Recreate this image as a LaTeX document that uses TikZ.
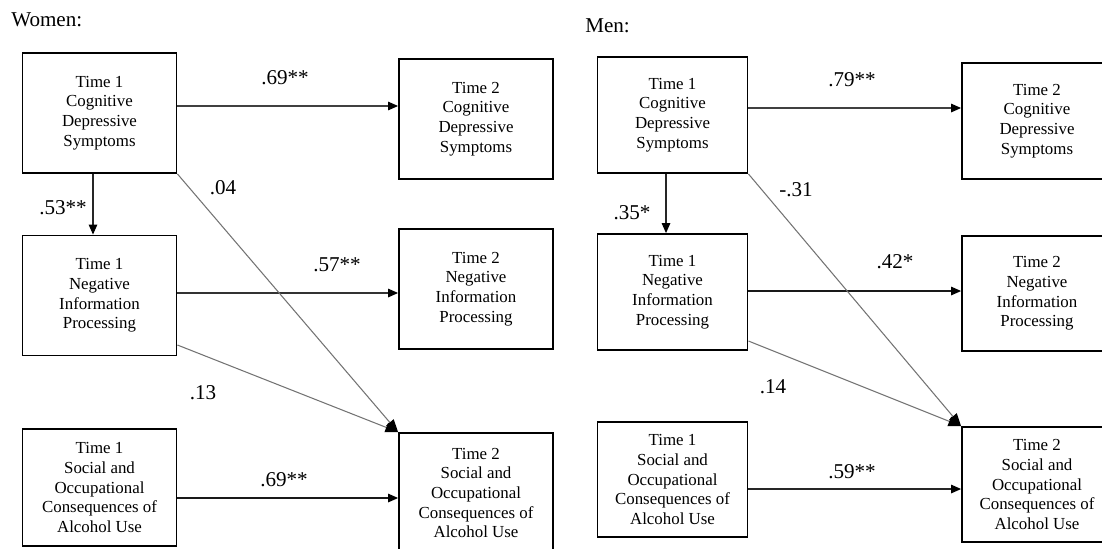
\documentclass[tikz,border=0pt]{standalone}
\usepackage{fontspec}
\setmainfont{Liberation Serif}
\usetikzlibrary{arrows.meta,positioning}

\begin{document}
\begin{tikzpicture}[x=0.025cm,y=-0.025cm]
	\useasboundingbox (0,0) rectangle (1102,548);
	\node[anchor=west,inner sep=0pt,font=\fontsize{15}{18}\selectfont] (Women) at (11,20) {Women:};
	\node[anchor=west,inner sep=0pt,font=\fontsize{15}{18}\selectfont] (Men) at (585,26) {Men:};

	\begin{scope}[every node/.style={rectangle,draw,line width=1.3pt,align=center,inner sep=0pt,font=\fontsize{12}{14}\selectfont,minimum width=3.85cm,minimum height=3cm}]
		\node (WC1) at (99.5,113) {Time 1\\ Cognitive\\ Depressive\\ Symptoms};
		\node (WN1) at (99.5,295.5) {Time 1\\ Negative\\ Information\\ Processing};
		\node[minimum height=2.925cm] (WS1) at (99.5,487.5) {Time 1\\ Social and\\ Occupational\\ Consequences of\\ Alcohol Use};
		\node (WC2) at (476,119) {Time 2\\ Cognitive\\ Depressive\\ Symptoms};
		\node (WN2) at (476,289) {Time 2\\ Negative\\ Information\\ Processing};
		\node (WS2) at (476,493) {Time 2\\ Social and\\ Occupational\\ Consequences of\\ Alcohol Use};
	\end{scope}

	\begin{scope}[every node/.style={rectangle,draw,line width=1.3pt,align=center,inner sep=0pt,font=\fontsize{12}{14}\selectfont,minimum width=3.75cm,minimum height=2.9cm}]
		\node (MC1) at (672.5,115) {Time 1\\ Cognitive\\ Depressive\\ Symptoms};
		\node (MN1) at (672.5,292) {Time 1\\ Negative\\ Information\\ Processing};
		\node[minimum height=2.875cm] (MS1) at (672.5,479.5) {Time 1\\ Social and\\ Occupational\\ Consequences of\\ Alcohol Use};
		\node (MC2) at (1037,121) {Time 2\\ Cognitive\\ Depressive\\ Symptoms};
		\node[minimum height=2.875cm] (MN2) at (1037,293.5) {Time 2\\ Negative\\ Information\\ Processing};
		\node[minimum height=2.875cm] (MS2) at (1037,484.5) {Time 2\\ Social and\\ Occupational\\ Consequences of\\ Alcohol Use};
	\end{scope}

	\begin{scope}[every node/.style={inner sep=0pt,font=\fontsize{15}{18}\selectfont}]
		\node (WCstab) at (285,78) {.69**};
		\node (WCpath) at (63,208) {.53**};
		\node (WCcross) at (223,188) {.04};
		\node (WNstab) at (337,265) {.57**};
		\node (WNcross) at (203,393) {.13};
		\node (WSstab) at (284,480) {.69**};

		\node (MCstab) at (852,80) {.79**};
		\node (MCpath) at (632,213) {.35*};
		\node (MCcross) at (796,190) {-.31};
		\node (MNstab) at (895,262) {.42*};
		\node (MNcross) at (773,387) {.14};
		\node (MSstab) at (852,472) {.59**};
	\end{scope}

	\begin{scope}[line width=0.75pt]
	% women
	\draw[-{Triangle[length=7pt,width=6pt,color=black]},black!75] (WC1.east |- 0,106) -- (WC2.west |- 0,106);
	\draw[-{Triangle[length=7pt,width=6pt,color=black]},black!85] (WC1.south -| 93,0) -- (WN1.north -| 93,0);
	\draw[-{Triangle[length=7pt,width=6pt,color=black]},black!80] (WN1.east |- 0,293) -- (WN2.west |- 0,293);
	\draw[-{Triangle[length=7pt,width=6pt,color=black]},black!90] (WS1.east |- 0,498) -- (WS2.west |- 0,498);
	\draw[-{Triangle[length=9pt,width=7pt,color=black]},black!55] (WC1.south east) -- (WS2.north west);
	\draw[-{Triangle[length=9pt,width=7pt,color=black]},black!55] (WN1.east |- 0,345) -- (WS2.north west);
	% men
	\draw[-{Triangle[length=7pt,width=6pt,color=black]},black!75] (MC1.east |- 0,108) -- (MC2.west |- 0,108);
	\draw[-{Triangle[length=7pt,width=6pt,color=black]},black!85] (MC1.south -| 666,0) -- (MN1.north -| 666,0);
	\draw[-{Triangle[length=7pt,width=6pt,color=black]},black!90] (MN1.east |- 0,291) -- (MN2.west |- 0,291);
	\draw[-{Triangle[length=7pt,width=6pt,color=black]},black!85] (MS1.east |- 0,489) -- (MS2.west |- 0,489);
	\draw[-{Triangle[length=9pt,width=7pt,color=black]},black!55] (MC1.south east) -- (MS2.north west);
	\draw[-{Triangle[length=9pt,width=7pt,color=black]},black!55] (MN1.east |- 0,341) -- (MS2.north west);
	\end{scope}
\end{tikzpicture}
\end{document}
